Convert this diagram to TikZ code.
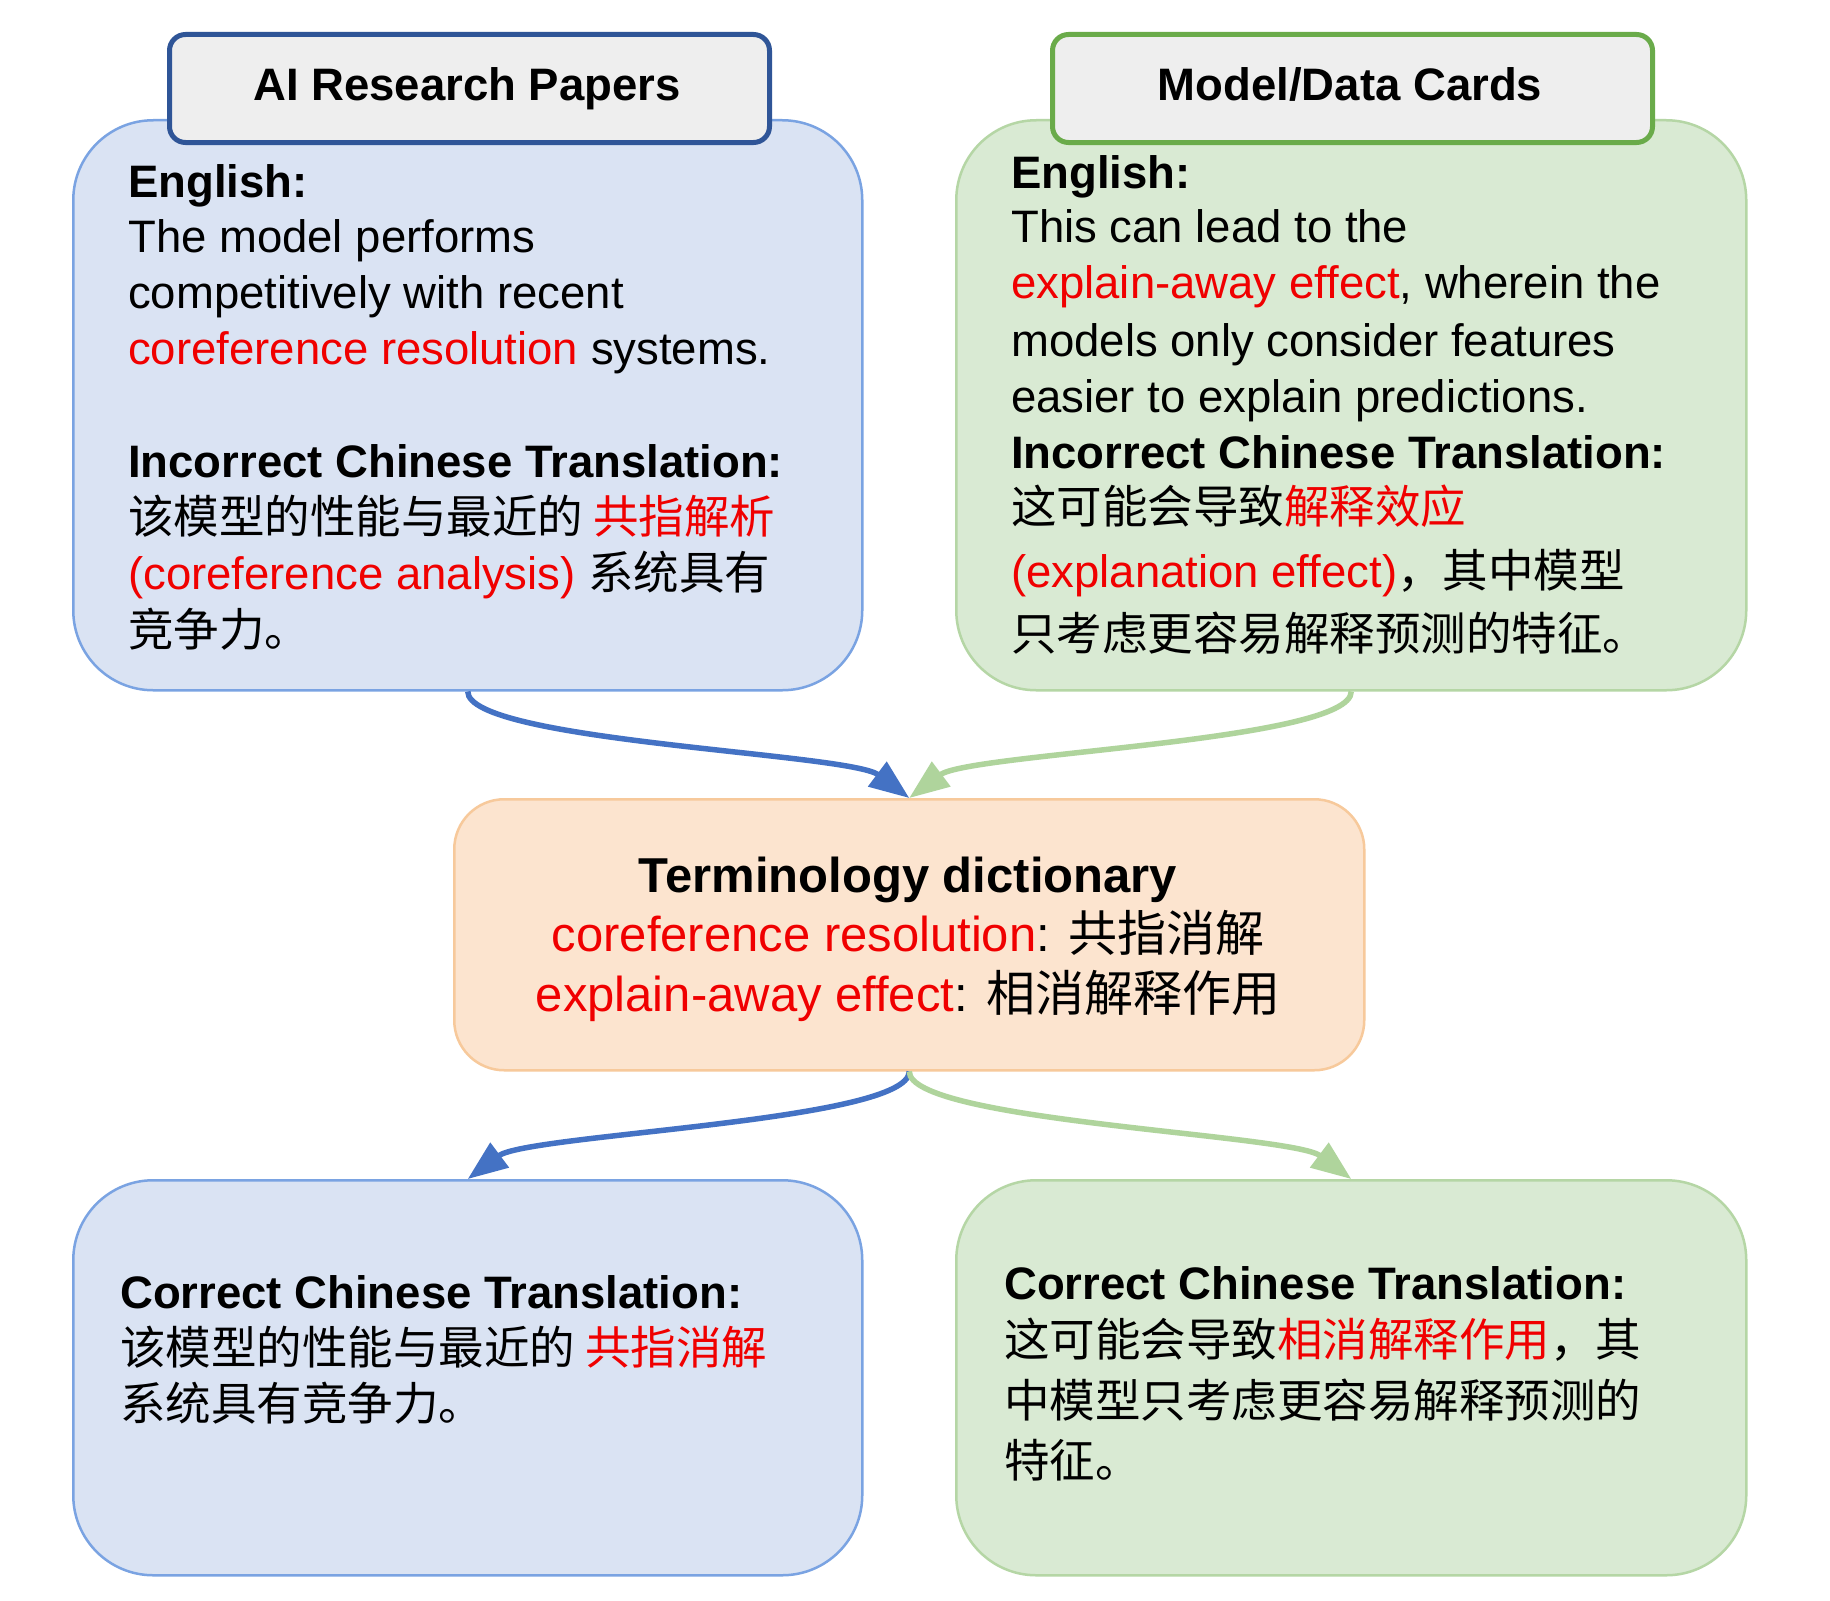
\documentclass[tikz,border=0pt]{standalone}
\usepackage{fontspec}
\setmainfont{Liberation Sans}
\newfontfamily\cjk{Noto Sans CJK SC}
\usetikzlibrary{arrows.meta}
\definecolor{myred}{HTML}{F00000}
\definecolor{bluefill}{HTML}{DAE3F3}
\definecolor{blueline}{HTML}{7AA3E2}
\definecolor{greenfill}{HTML}{D9EAD3}
\definecolor{greenline}{HTML}{B5D6A5}
\definecolor{orangefill}{HTML}{FCE4CF}
\definecolor{orangeline}{HTML}{F7C99B}
\definecolor{headfill}{HTML}{EEEEEE}
\definecolor{headblue}{HTML}{2F5597}
\definecolor{headgreen}{HTML}{6AAB4A}
\definecolor{arrblue}{HTML}{4472C4}
\definecolor{arrgreen}{HTML}{AFD49C}
\tikzset{
  bigbox/.style={draw, line width=2.5pt, rounded corners=80pt, anchor=north west, inner sep=0pt},
  bluebox/.style={bigbox, fill=bluefill, draw=blueline},
  greenbox/.style={bigbox, fill=greenfill, draw=greenline},
  headbox/.style={draw, line width=5pt, fill=headfill, rounded corners=16pt, anchor=north west, inner sep=0pt, minimum width=600pt, minimum height=108pt},
  txt/.style={anchor=base west, inner sep=0pt, font=\fontsize{45.5}{56}\selectfont},
  txtb/.style={anchor=base west, inner sep=0pt, font=\fontsize{45.5}{56}\selectfont\bfseries},
  midtxt/.style={anchor=base, inner sep=0pt, font=\fontsize{49}{60}\selectfont},
  conn/.style={line width=5.5pt, -{Triangle[length=40pt,width=30pt]}},
}
\begin{document}
\begin{tikzpicture}[x=1pt,y=-1pt]
\useasboundingbox (0,0) rectangle (1830,1600);
\fill[white] (0,0) rectangle (1830,1600);

% big boxes
\node[bluebox, minimum width=789pt, minimum height=570pt] (tl) at (72,119) {};
\node[greenbox, minimum width=790pt, minimum height=570pt] (tr) at (955,119) {};
\node[draw=orangeline, fill=orangefill, line width=2.5pt, rounded corners=50pt, anchor=north west, inner sep=0pt, minimum width=910pt, minimum height=271pt] (mid) at (453,798) {};
\node[bluebox, minimum width=789pt, minimum height=395pt] (bl) at (72,1179) {};
\node[greenbox, minimum width=790pt, minimum height=395pt] (br) at (955,1179) {};

% headers
\node[headbox, draw=headblue] (h1) at (167,32) {};
\node[headbox, draw=headgreen] (h2) at (1050,32) {};
\node[anchor=base, inner sep=0pt, font=\fontsize{45.5}{56}\selectfont\bfseries] (h1t) at (467,101) {AI Research Papers};
\node[anchor=base, inner sep=0pt, font=\fontsize{45.5}{56}\selectfont\bfseries] (h2t) at (1350,101) {Model/Data Cards};

% top-left text
\node[txtb] (tle) at (128,197) {English:};
\node[txt] (tl1) at (128,252) {The model performs};
\node[txt] (tl2) at (128,308) {competitively with recent};
\node[txt] (tl3) at (128,364) {\textcolor{myred}{coreference resolution} systems.};
\node[txtb] (tli) at (128,477) {Incorrect Chinese Translation:};
\node[txt] (tl4) at (128,533) {\cjk 该模型的性能与最近的 \textcolor{myred}{共指解析}};
\node[txt] (tl5) at (128,589) {\textcolor{myred}{(coreference analysis)} {\cjk 系统具有}};
\node[txt] (tl6) at (128,646) {\cjk 竞争力。};

% top-right text
\node[txtb] (tre) at (1011,188) {English:};
\node[txt] (tr1) at (1011,242) {This can lead to the};
\node[txt] (tr2) at (1011,298) {\textcolor{myred}{explain-away effect}, wherein the};
\node[txt] (tr3) at (1011,356) {models only consider features};
\node[txt] (tr4) at (1011,412) {easier to explain predictions.};
\node[txtb] (tri) at (1011,468) {Incorrect Chinese Translation:};
\node[txt] (tr5) at (1011,523) {\cjk 这可能会导致\textcolor{myred}{解释效应}};
\node[txt] (tr6) at (1011,587) {\textcolor{myred}{(explanation effect)}{\cjk ，其中模型}};
\node[txt] (tr7) at (1011,650) {\cjk 只考虑更容易解释预测的特征。};

% middle text
\node[midtxt, font=\fontsize{49}{60}\selectfont\bfseries] (m0) at (908,892) {Terminology dictionary};
\node[midtxt] (m1) at (908,951) {\textcolor{myred}{coreference resolution}: {\cjk 共指消解}};
\node[midtxt] (m2) at (908,1011) {\textcolor{myred}{explain-away effect}: {\cjk 相消解释作用}};

% bottom-left text
\node[txtb] (blc) at (120,1308) {Correct Chinese Translation:};
\node[txt] (bl1) at (120,1364) {\cjk 该模型的性能与最近的 \textcolor{myred}{共指消解}};
\node[txt] (bl2) at (120,1420) {\cjk 系统具有竞争力。};

% bottom-right text
\node[txtb] (brc) at (1004,1299) {Correct Chinese Translation:};
\node[txt] (br1) at (1004,1356) {\cjk 这可能会导致\textcolor{myred}{相消解释作用}，其};
\node[txt] (br2) at (1004,1417) {\cjk 中模型只考虑更容易解释预测的};
\node[txt] (br3) at (1004,1477) {\cjk 特征。};

% connectors
\draw[conn, arrblue] (tl.south) .. controls +(0,50) and +(-60,-45) .. (mid.north);
\draw[conn, arrgreen] (tr.south) .. controls +(0,50) and +(60,-45) .. (mid.north);
\draw[conn, arrblue] (mid.south) .. controls +(0,50) and +(60,-45) .. (bl.north);
\draw[conn, arrgreen] (mid.south) .. controls +(0,50) and +(-60,-45) .. (br.north);
\end{tikzpicture}
\end{document}
